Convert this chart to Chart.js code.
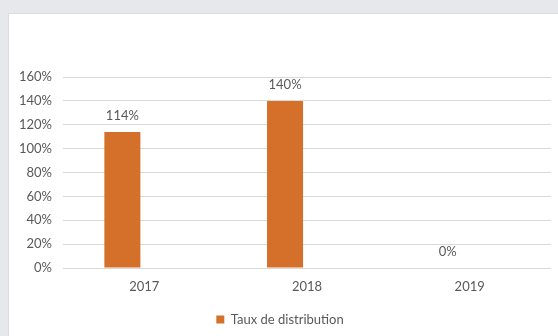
<!DOCTYPE html>
<html>
<head>
<meta charset="utf-8">
<script src="https://cdn.jsdelivr.net/npm/chart.js@4/dist/chart.umd.min.js"></script>
<style>
  html, body { margin: 0; padding: 0; background: #e7e8eb; }
  body { width: 558px; height: 336px; position: relative; overflow: hidden; }
  .panel { position: absolute; left: 8px; top: 13px; width: 550px; height: 323px; background: #fff; border-left: 1px solid #dcdde0; border-top: 1px solid #dcdde0; box-sizing: border-box; }
  canvas { display: block; }
</style>
</head>
<body>
<div class="panel"><canvas id="distChart" width="549" height="322"></canvas></div>
<script>
// données
const years = ["2017", "2018", "2019"];
const tauxDistribution = [1.14, 1.40, 0];
const emptySeries = [null, null, null]; // 2e série vide (décale les barres)
const yTicks = [0, 0.2, 0.4, 0.6, 0.8, 1.0, 1.2, 1.4, 1.6];

const textColor = "#595959";
const fontFamily = "Lato, 'Open Sans', sans-serif";

// étiquettes de valeur au-dessus des barres
const valueLabels = {
    id: "valueLabels",
    afterDatasetsDraw(chart) {
        const ctx = chart.ctx;
        const meta = chart.getDatasetMeta(0);
        ctx.save();
        ctx.fillStyle = textColor;
        ctx.font = "13px " + fontFamily;
        ctx.textAlign = "center";
        ctx.textBaseline = "middle";
        meta.data.forEach((bar, i) => {
            const v = tauxDistribution[i];
            ctx.fillText(Math.round(v * 100) + "%", bar.x, bar.y - 16);
        });
        ctx.restore();
    }
};

new Chart(document.getElementById("distChart"), {
    type: "bar",
    data: {
        labels: years,
        datasets: [{
            label: "Taux de distribution",
            data: tauxDistribution,
            backgroundColor: "#d5702a",
            categoryPercentage: 0.54,
            barPercentage: 0.82
        }, {
            label: "",
            data: emptySeries,
            backgroundColor: "transparent",
            categoryPercentage: 0.54,
            barPercentage: 0.82
        }]
    },
    options: {
        responsive: false,
        animation: false,
        layout: { padding: { top: 63, right: 7, left: 0, bottom: 0 } },
        plugins: {
            tooltip: { enabled: false },
            legend: {
                position: "bottom",
                labels: {
                    color: textColor,
                    font: { family: fontFamily, size: 13 },
                    boxWidth: 8,
                    boxHeight: 8,
                    padding: 6,
                    filter: item => item.datasetIndex === 0
                }
            }
        },
        scales: {
            x: {
                grid: { display: false },
                border: { display: false },
                ticks: { color: textColor, font: { family: fontFamily, size: 13 }, padding: 3 },
                afterFit(scale) { scale.height = 39; }
            },
            y: {
                min: 0,
                max: 1.6,
                afterBuildTicks(scale) { scale.ticks = yTicks.map(v => ({ value: v })); },
                grid: { color: "#d9d9d9", lineWidth: 1, drawTicks: false },
                border: { display: false },
                ticks: {
                    color: textColor,
                    font: { family: fontFamily, size: 13 },
                    padding: 11,
                    callback: v => Math.round(v * 100) + "%"
                },
                afterFit(scale) { scale.width = 54; }
            }
        }
    },
    plugins: [valueLabels]
});
</script>
</body>
</html>
